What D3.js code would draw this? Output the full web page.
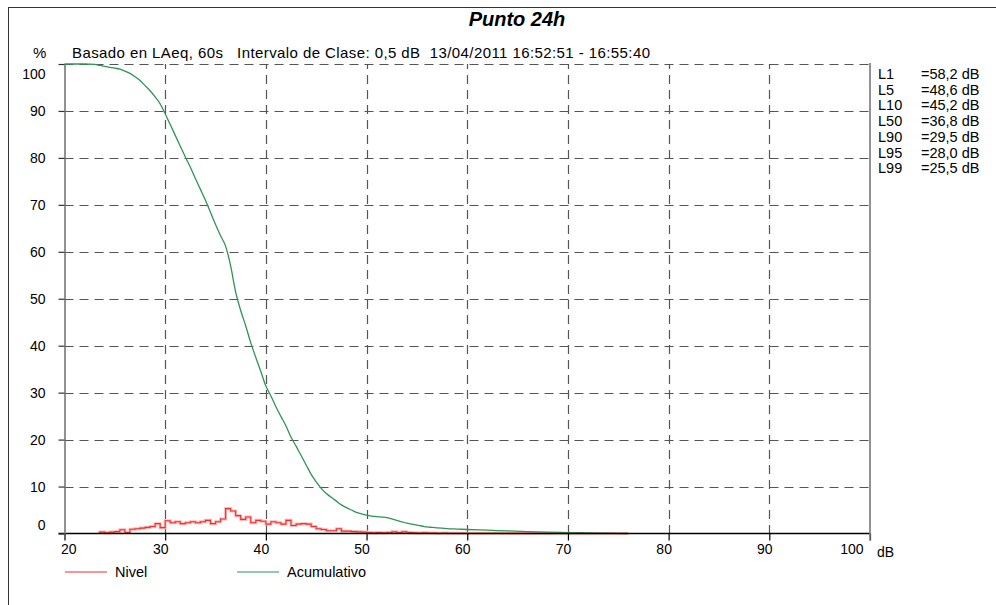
<!DOCTYPE html>
<html>
<head>
<meta charset="utf-8">
<script src="https://cdn.jsdelivr.net/npm/d3@7"></script>
<style>
  html, body { margin: 0; padding: 0; background: #fff; }
  svg { display: block; font-family: "Liberation Sans", Arial, sans-serif; }
</style>
</head>
<body>
<svg id="chart" width="996" height="605"></svg>
<script>
// ---- data -------------------------------------------------------------
const titulo = "Punto 24h";
const subtitulo = "Basado en LAeq, 60s   Intervalo de Clase: 0,5 dB  13/04/2011 16:52:51 - 16:55:40";

const xTicks = [20, 30, 40, 50, 60, 70, 80, 90, 100];
const yTicks = [0, 10, 20, 30, 40, 50, 60, 70, 80, 90, 100];

// percentile levels
const lNombres = ["L1", "L5", "L10", "L50", "L90", "L95", "L99"];
const lValores = ["=58,2 dB", "=48,6 dB", "=45,2 dB", "=36,8 dB", "=29,5 dB", "=28,0 dB", "=25,5 dB"];

// Nivel: percentage of time per 0,5 dB class (lower class edge in dB)
const nivelDb = [
  23.5, 24, 24.5, 25, 25.5, 26, 26.5, 27, 27.5, 28, 28.5, 29, 29.5,
  30, 30.5, 31, 31.5, 32, 32.5, 33, 33.5, 34, 34.5, 35, 35.5,
  36, 36.5, 37, 37.5, 38, 38.5, 39, 39.5,
  40, 40.5, 41, 41.5, 42, 42.5, 43, 43.5, 44, 44.5,
  45, 45.5, 46, 46.5, 47, 47.5, 48, 48.5, 49, 49.5,
  50, 50.5, 51, 51.5, 52, 52.5, 53, 53.5, 54, 54.5,
  55, 55.5, 56, 56.5, 57, 57.5, 58, 58.5, 59, 59.5,
  60, 60.5, 61, 61.5, 62, 62.5, 63, 63.5, 64, 64.5,
  65, 65.5, 66, 66.5, 67, 67.5, 68, 68.5, 69, 69.5,
  70, 70.5, 71, 71.5, 72, 72.5, 73, 73.5, 74, 74.5, 75, 75.5
];
const nivelPct = [
  0.3, 0.15, 0.3, 0.4, 0.8, 0.2, 0.9, 1.0, 1.15, 1.3, 1.5, 2.1, 1.25,
  2.7, 2.3, 2.5, 2.1, 2.3, 2.5, 2.3, 2.5, 2.8, 2.1, 2.5, 3.1,
  5.3, 4.8, 3.8, 3.0, 3.5, 2.3, 2.8, 2.6,
  2.0, 2.5, 2.3, 2.0, 2.8, 1.7, 2.0, 2.1, 2.0, 1.5,
  1.0, 0.85, 0.6, 0.6, 1.0, 0.5, 0.5, 0.4, 0.35, 0.3,
  0.2, 0.15, 0.2, 0.15, 0.2, 0.35, 0.2, 0.35, 0.2, 0.15,
  0.1, 0.15, 0.1, 0.1, 0.05, 0.08, 0.05, 0.05, 0.05, 0.04,
  0.04, 0.03, 0.04, 0.03, 0.03, 0.03, 0.03, 0.02, 0.03, 0.02,
  0.02, 0.02, 0.02, 0.02, 0.02, 0.02, 0.02, 0.02, 0.02, 0.02,
  0.02, 0.02, 0.02, 0.01, 0.01, 0.01, 0.01, 0.01, 0.01, 0.01, 0.01, 0.01
];

// Acumulativo: percentage of time above each level
const acumDb = [
  20, 21, 22, 23, 23.5, 24, 24.5, 25, 25.5, 26, 26.5, 27, 27.5, 28, 28.5, 29, 29.5,
  30, 30.5, 31, 31.5, 32, 32.5, 33, 33.5, 34, 34.5, 35, 35.5, 36, 36.5, 37, 37.5,
  38, 38.5, 39, 39.5, 40, 40.5, 41, 41.5, 42, 42.5, 43, 43.5, 44, 44.5, 45, 45.5,
  46, 46.5, 47, 47.5, 48, 48.5, 49, 49.5, 50, 50.5, 51, 51.5, 52, 52.5, 53, 53.5,
  54, 54.5, 55, 55.5, 56, 56.5, 57, 58, 59, 60, 62, 64, 66, 68, 70, 72, 74, 76
];
const acumPct = [
  100, 100, 100, 99.9, 99.7, 99.5, 99.3, 99.1, 98.9, 98.5, 98.0, 97.3, 96.5, 95.4, 94.3, 93.0, 91.5,
  89.4, 87.1, 84.8, 82.5, 80.2, 78.0, 75.6, 73.3, 71.0, 68.4, 65.8, 63.4, 61.2, 57.0, 51.4, 47.5,
  44.2, 40.6, 37.5, 34.5, 31.4, 29.3, 27.0, 24.9, 22.9, 20.5, 18.6, 16.6, 14.6, 12.6, 11.0, 9.6,
  8.5, 7.7, 6.9, 6.1, 5.5, 5.0, 4.5, 4.2, 3.9, 3.7, 3.6, 3.5, 3.4, 3.1, 2.8, 2.5,
  2.2, 2.0, 1.8, 1.6, 1.4, 1.3, 1.2, 1.05, 0.95, 0.85, 0.7, 0.55, 0.4, 0.3, 0.2, 0.12, 0.05, 0
];

const claseAncho = 0.5;

// ---- layout -----------------------------------------------------------
const svg = d3.select("#chart");
const plotL = 64.5, plotR = 870, plotT = 64, plotB = 533.5;

const x = d3.scaleLinear().domain([20, 100]).range([plotL, plotR]);
const y = d3.scaleLinear().domain([0, 100]).range([plotB, plotT]);

// outer frame
svg.append("rect")
  .attr("x", 8.5).attr("y", 7.5).attr("width", 1000).attr("height", 1000)
  .attr("fill", "none").attr("stroke", "#333").attr("stroke-width", 1);

// title
svg.append("text")
  .attr("x", 517).attr("y", 26)
  .attr("text-anchor", "middle")
  .attr("font-size", 20).attr("font-weight", "bold").attr("font-style", "italic")
  .attr("fill", "#000")
  .text(titulo);

svg.append("text")
  .attr("x", 72).attr("y", 58)
  .attr("font-size", 15).attr("fill", "#000")
  .attr("textLength", 578).attr("lengthAdjust", "spacing")
  .attr("xml:space", "preserve").style("white-space", "pre")
  .text(subtitulo);

svg.append("text")
  .attr("x", 33).attr("y", 58)
  .attr("font-size", 15).attr("fill", "#000")
  .text("%");

// grid
const grid = svg.append("g").attr("stroke", "#555").attr("stroke-width", 1.2)
  .attr("stroke-dasharray", "9,6");
grid.selectAll("line.h").data(yTicks.filter(v => v > 0)).join("line")
  .attr("class", "h")
  .attr("x1", plotL).attr("x2", plotR)
  .attr("y1", d => Math.round(y(d)) + 0.5).attr("y2", d => Math.round(y(d)) + 0.5);
grid.selectAll("line.v").data(xTicks.filter(v => v > 20 && v < 100)).join("line")
  .attr("class", "v")
  .attr("y1", plotT).attr("y2", plotB)
  .attr("stroke-dashoffset", 4)
  .attr("x1", d => Math.round(x(d)) + 0.5).attr("x2", d => Math.round(x(d)) + 0.5);

// Nivel step line
const nivelPts = [[nivelDb[0], 0]];
nivelDb.forEach((d, i) => {
  nivelPts.push([d, nivelPct[i]]);
  nivelPts.push([d + claseAncho, nivelPct[i]]);
});
const stepLine = d3.line().x(d => x(d[0])).y(d => y(d[1]));
svg.append("path").datum(nivelPts)
  .attr("d", stepLine).attr("fill", "none")
  .attr("stroke", "#ffb8b8").attr("stroke-width", 3).attr("stroke-linejoin", "miter");
svg.append("path").datum(nivelPts)
  .attr("d", stepLine).attr("fill", "none")
  .attr("stroke", "#ee3030").attr("stroke-width", 1.1).attr("stroke-linejoin", "miter");

// Acumulativo line
const acumLine = d3.line().x((d, i) => x(acumDb[i])).y(d => y(d)).curve(d3.curveMonotoneX);
svg.append("path").datum(acumPct)
  .attr("d", acumLine).attr("fill", "none")
  .attr("stroke", "#2f9457").attr("stroke-width", 1.3);

// axes
const xAxis = svg.append("g")
  .attr("transform", `translate(0,${plotB})`)
  .call(d3.axisBottom(x).tickValues(xTicks).tickSize(7).tickSizeOuter(0).tickFormat(d3.format("d")));
xAxis.select(".domain").attr("stroke", "#000").attr("stroke-width", 1.5)
  .attr("d", `M${plotL - 6},0H${plotR}`);
xAxis.selectAll(".tick line").attr("stroke", "#000").attr("stroke-width", 1.2);
xAxis.selectAll(".tick text")
  .attr("font-size", 14).attr("font-family", "Liberation Sans, Arial, sans-serif")
  .attr("fill", "#000").attr("y", 11)
  .attr("dx", d => d === 20 ? -4 : (d === 100 ? -7 : -5))
  .attr("text-anchor", d => d === 20 ? "start" : (d === 100 ? "end" : "middle"));

svg.append("text")
  .attr("x", 877).attr("y", 557)
  .attr("font-size", 14).attr("fill", "#000")
  .text("dB");

const yAxis = svg.append("g")
  .attr("transform", `translate(${plotL},0)`)
  .call(d3.axisLeft(y).tickValues(yTicks).tickSize(6).tickSizeOuter(0).tickFormat(d3.format("d")));
yAxis.select(".domain").attr("stroke", "#777").attr("stroke-width", 1.6);
yAxis.selectAll(".tick line").attr("stroke", "#333").attr("stroke-width", 1.2);
yAxis.selectAll(".tick text")
  .attr("font-size", 14).attr("font-family", "Liberation Sans, Arial, sans-serif")
  .attr("fill", "#000").attr("x", -19)
  .attr("dy", d => d === 100 ? "1.05em" : (d === 0 ? "-0.3em" : "0.32em"));

// right border of plot
svg.append("line")
  .attr("x1", plotR).attr("x2", plotR).attr("y1", plotT - 1).attr("y2", plotB + 7)
  .attr("stroke", "#777").attr("stroke-width", 1.6);

// percentile list
const lista = svg.append("g").attr("font-size", 14.5).attr("fill", "#000");
lista.selectAll("text.n").data(lNombres).join("text")
  .attr("class", "n").attr("x", 878).attr("y", (d, i) => 79 + i * 15.7).text(d => d);
lista.selectAll("text.v").data(lValores).join("text")
  .attr("class", "v").attr("x", 921).attr("y", (d, i) => 79 + i * 15.7).text(d => d);

// legend
const leyenda = [
  { nombre: "Nivel", color: "#ee3030", x0: 65 },
  { nombre: "Acumulativo", color: "#2f9457", x0: 237 }
];
const lg = svg.append("g");
leyenda.forEach(l => {
  lg.append("line").attr("x1", l.x0).attr("x2", l.x0 + 42)
    .attr("y1", 572).attr("y2", 572)
    .attr("stroke", l.color).attr("stroke-width", 1.2);
  lg.append("text").attr("x", l.x0 + 50).attr("y", 577)
    .attr("font-size", 14.5).attr("fill", "#000").text(l.nombre);
});
</script>
</body>
</html>
